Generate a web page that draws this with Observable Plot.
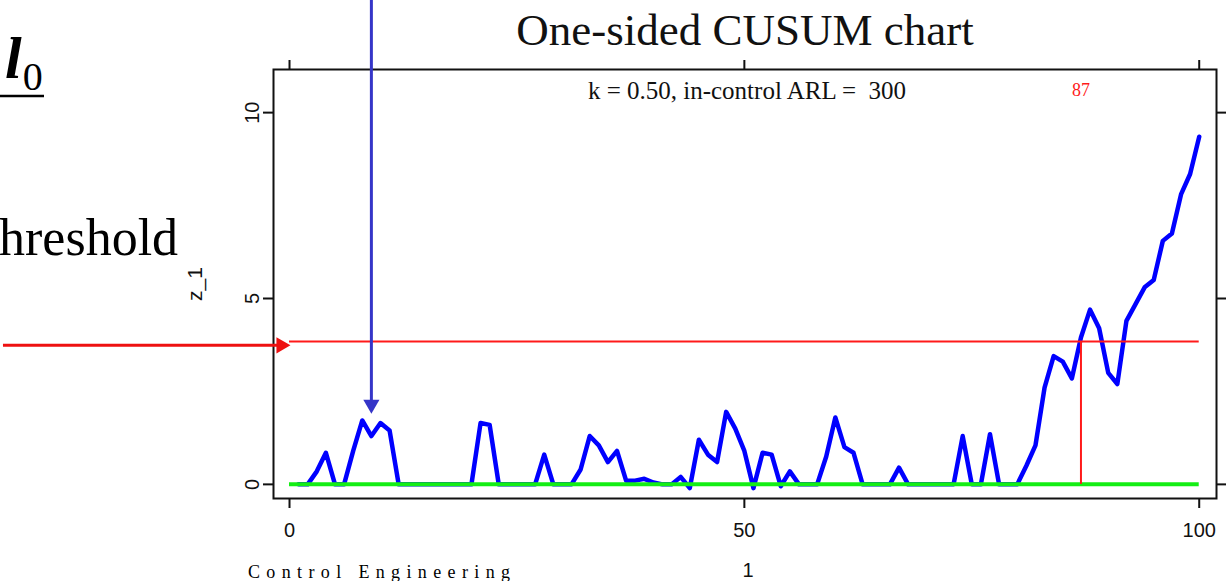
<!DOCTYPE html>
<html><head><meta charset="utf-8">
<script src="https://cdn.jsdelivr.net/npm/d3@7"></script>
<script src="https://cdn.jsdelivr.net/npm/@observablehq/plot@0.6"></script>
<style>
html,body{margin:0;padding:0;background:#fff;}
#wrap{position:relative;width:1226px;height:581px;overflow:hidden;background:#fff;}
#wrap svg{position:absolute;left:0;top:0;}
</style></head><body><div id="wrap"></div>
<script>
const zValues = [
  0, 0, 0.35, 0.85, 0, 0, 0.9, 1.72, 1.3, 1.65,
  1.45, 0, 0, 0, 0, 0, 0, 0, 0, 0,
  1.65, 1.6, 0, 0, 0, 0, 0, 0.8, 0, 0,
  0, 0.4, 1.3, 1.05, 0.6, 0.9, 0.1, 0.1, 0.15, 0.05,
  0, 0, 0.2, -0.1, 1.2, 0.8, 0.6, 1.95, 1.5, 0.9,
  -0.1, 0.85, 0.8, -0.05, 0.35, 0, 0, 0, 0.75, 1.8,
  1.0, 0.85, 0, 0, 0, 0, 0.45, 0, 0, 0,
  0, 0, 0, 1.3, 0, 0, 1.35, 0, 0, 0,
  0.5, 1.05, 2.6, 3.45, 3.3, 2.85, 3.95, 4.7, 4.2, 3.0,
  2.7, 4.4, 4.85, 5.3, 5.5, 6.55, 6.75, 7.8, 8.35, 9.35
];
const xTicks = [0, 50, 100];
const yTicks = [0, 5, 10];
const threshold = 3.84;
const signalT = 87;
const tStart = 0, tEnd = 100;
const titleText = "One-sided CUSUM chart";
const subtitleText = "k = 0.50, in-control ARL =  300";
const yLabel = "z_1";
const xLabel = "1";
// slide annotations pointing into the chart
const blueArrow = [{x: 9, yFrom: 13.4, yTo: 1.9}];
const redArrow = [{xFrom: -30.4, xTo: 0.1, y: 3.74}];

const data = zValues.map((z, i) => ({t: i + 1, z}));

const tickOpts = {tickSize: 10, tickFormat: () => "", label: null, stroke: "#111", strokeWidth: 2};

const chart = Plot.plot({
  width: 1226, height: 581,
  marginLeft: 273, marginRight: 10, marginTop: 69, marginBottom: 83,
  x: {domain: [-1.76, 101.9]},
  y: {domain: [-0.38, 11.16]},
  style: {background: "transparent", fontFamily: "'Liberation Sans', sans-serif", color: "#111", overflow: "visible", whiteSpace: "pre"},
  marks: [
    Plot.axisX(xTicks, {anchor: "bottom", ...tickOpts}),
    Plot.axisX(xTicks, {anchor: "top", ...tickOpts}),
    Plot.axisY(yTicks, {anchor: "left", ...tickOpts}),
    Plot.axisY(yTicks, {anchor: "right", ...tickOpts}),
    Plot.frame({stroke: "#111", strokeWidth: 2}),
    Plot.line(data, {x: "t", y: "z", stroke: "#0000ff", strokeWidth: 4.5}),
    Plot.ruleY([0], {x1: tStart, x2: tEnd, stroke: "#14ee14", strokeWidth: 4}),
    Plot.ruleY([threshold], {x1: tStart, x2: tEnd, stroke: "#ff1a1a", strokeWidth: 2}),
    Plot.ruleX([signalT], {y1: 0, y2: threshold, stroke: "#ff1a1a", strokeWidth: 2}),
    // tick labels
    Plot.text(xTicks, {x: d => d, frameAnchor: "bottom", dy: 24, lineAnchor: "top", text: d => String(d), fontSize: 20, fill: "#111"}),
    Plot.text(yTicks, {y: d => d, frameAnchor: "left", dx: -15, rotate: -90, textAnchor: "middle", lineAnchor: "bottom", text: d => String(d), fontSize: 20, fill: "#111"}),
    // axis titles
    Plot.text([yLabel], {frameAnchor: "left", dx: -72, rotate: -90, textAnchor: "middle", lineAnchor: "bottom", fontSize: 21, fill: "#111"}),
    Plot.text([xLabel], {frameAnchor: "bottom", dy: 64, lineAnchor: "top", dx: 3, fontSize: 20, fill: "#111"}),
    // title & subtitle
    Plot.text([titleText], {frameAnchor: "top", dy: -25, lineAnchor: "bottom", fontSize: 45, fontFamily: "'Liberation Serif', serif", fill: "#111"}),
    Plot.text([subtitleText], {frameAnchor: "top", dy: 21, dx: 2, lineAnchor: "middle", fontSize: 25, fontFamily: "'Liberation Serif', serif", fill: "#111"}),
    Plot.text([signalT], {x: d => d, frameAnchor: "top", dy: 21, lineAnchor: "middle", text: d => String(d), fontSize: 18, fontFamily: "'Liberation Serif', serif", fill: "#ff1a1a"}),
    // annotation arrows
    Plot.link(blueArrow, {x1: "x", y1: "yFrom", x2: "x", y2: "yTo", stroke: "#3535c8", strokeWidth: 3, dy: -10}),
    Plot.dot(blueArrow, {x: "x", y: "yTo", symbol: "triangle", r: 6, rotate: 180, fill: "#3535c8", stroke: "none", dy: -9.3}),
    Plot.link(redArrow, {x1: "xFrom", y1: "y", x2: "xTo", y2: "y", stroke: "#ee1111", strokeWidth: 3, dx: -10}),
    Plot.dot(redArrow, {x: "xTo", y: "y", symbol: "triangle", r: 6, rotate: 90, fill: "#ee1111", stroke: "none", dx: -9.3})
  ]
});

const wrap = document.getElementById("wrap");
// slide fragments around the chart
const ns = "http://www.w3.org/2000/svg";
const deco = document.createElementNS(ns, "svg");
deco.setAttribute("width", 1226);
deco.setAttribute("height", 581);
deco.innerHTML = `
  <text x="5" y="78" font-family="Liberation Serif" font-style="italic" font-weight="bold" font-size="60" fill="#000">l<tspan font-size="40" font-style="normal" font-weight="normal" dx="1" dy="12">0</tspan></text>
  <line x1="0" x2="44" y1="96" y2="96" stroke="#000" stroke-width="2.5"/>
  <text x="-1" y="255" font-family="Liberation Serif" font-size="52" fill="#000">hreshold</text>
  <text x="248" y="578" font-family="Liberation Serif" font-size="18" fill="#000" textLength="262" lengthAdjust="spacing">Control Engineering</text>
`;
wrap.appendChild(deco);
wrap.appendChild(chart);
</script>
</body></html>
